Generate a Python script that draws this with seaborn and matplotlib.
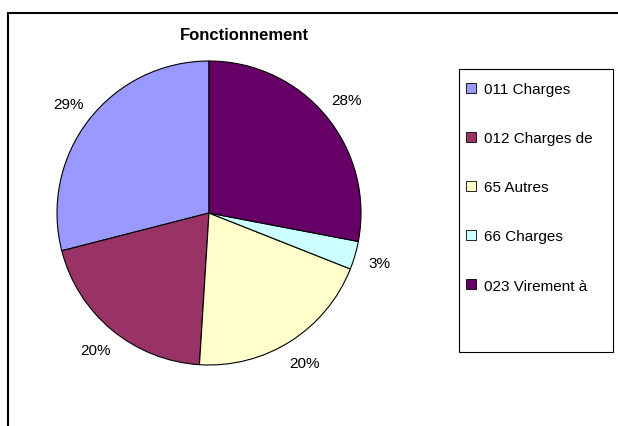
"""
plot.py — Pie chart "Fonctionnement" (budget breakdown by chapter).
"""
import matplotlib
matplotlib.use("Agg")
import matplotlib.pyplot as plt
from matplotlib.patches import Patch, Rectangle
import seaborn as sns

# ── Data ──────────────────────────────────────────────────────────────────────
labels = ["011 Charges", "012 Charges de", "65 Autres", "66 Charges", "023 Virement à"]
shares = [29, 20, 20, 3, 28]
colors = ["#9999FF", "#993366", "#FFFFCC", "#CCFFFF", "#660066"]
title = "Fonctionnement"

# ── Style ─────────────────────────────────────────────────────────────────────
sns.set_style("white")
plt.rcParams["font.family"] = ["Liberation Sans", "DejaVu Sans"]
plt.rcParams["text.color"] = "black"

W, H = 618, 427
fig = plt.figure(figsize=(W / 100, H / 100), dpi=100)


def px_box(left, top, right, bottom):
    """Pixel box (origin top-left) -> figure fraction rect."""
    return [left / W, 1 - bottom / H, (right - left) / W, (bottom - top) / H]


# outer chart frame
fig.patches.append(Rectangle((8 / W, -0.05), 1.2, 1 - 13.5 / H + 0.05,
                             transform=fig.transFigure, fill=False,
                             edgecolor="black", linewidth=1.5))

# ── Pie ───────────────────────────────────────────────────────────────────────
ax = fig.add_axes(px_box(57, 62, 361, 366))
wedges, texts, autotexts = ax.pie(
    shares,
    colors=colors,
    startangle=90,
    counterclock=True,
    autopct="%d%%",
    pctdistance=1.17,
    wedgeprops=dict(edgecolor="black", linewidth=0.8),
    textprops=dict(fontsize=11, color="black"),
)
ax.set_xlim(-1, 1)
ax.set_ylim(-1, 1)
ax.set_aspect("equal")
ax.axis("off")

fig.text(244 / W, 1 - 35 / H, title, ha="center", va="center",
         fontsize=12, fontweight="bold", color="black")

# ── Legend ────────────────────────────────────────────────────────────────────
fig.patches.append(Rectangle((459 / W, 1 - 353 / H), (613 - 459) / W, (353 - 70) / H,
                             transform=fig.transFigure, fill=False,
                             edgecolor="black", linewidth=0.8))
handles = [Patch(facecolor=c, edgecolor="black", linewidth=0.6) for c in colors]
leg = fig.legend(
    handles, labels,
    loc="upper left",
    bbox_to_anchor=(466 / W, 1 - 83 / H),
    frameon=False,
    fontsize=11,
    handlelength=0.65,
    handleheight=0.65,
    handletextpad=0.5,
    labelspacing=2.3,
    borderpad=0,
    borderaxespad=0,
)
for t in leg.get_texts():
    t.set_color("black")

fig.savefig("out.png", dpi=100)
